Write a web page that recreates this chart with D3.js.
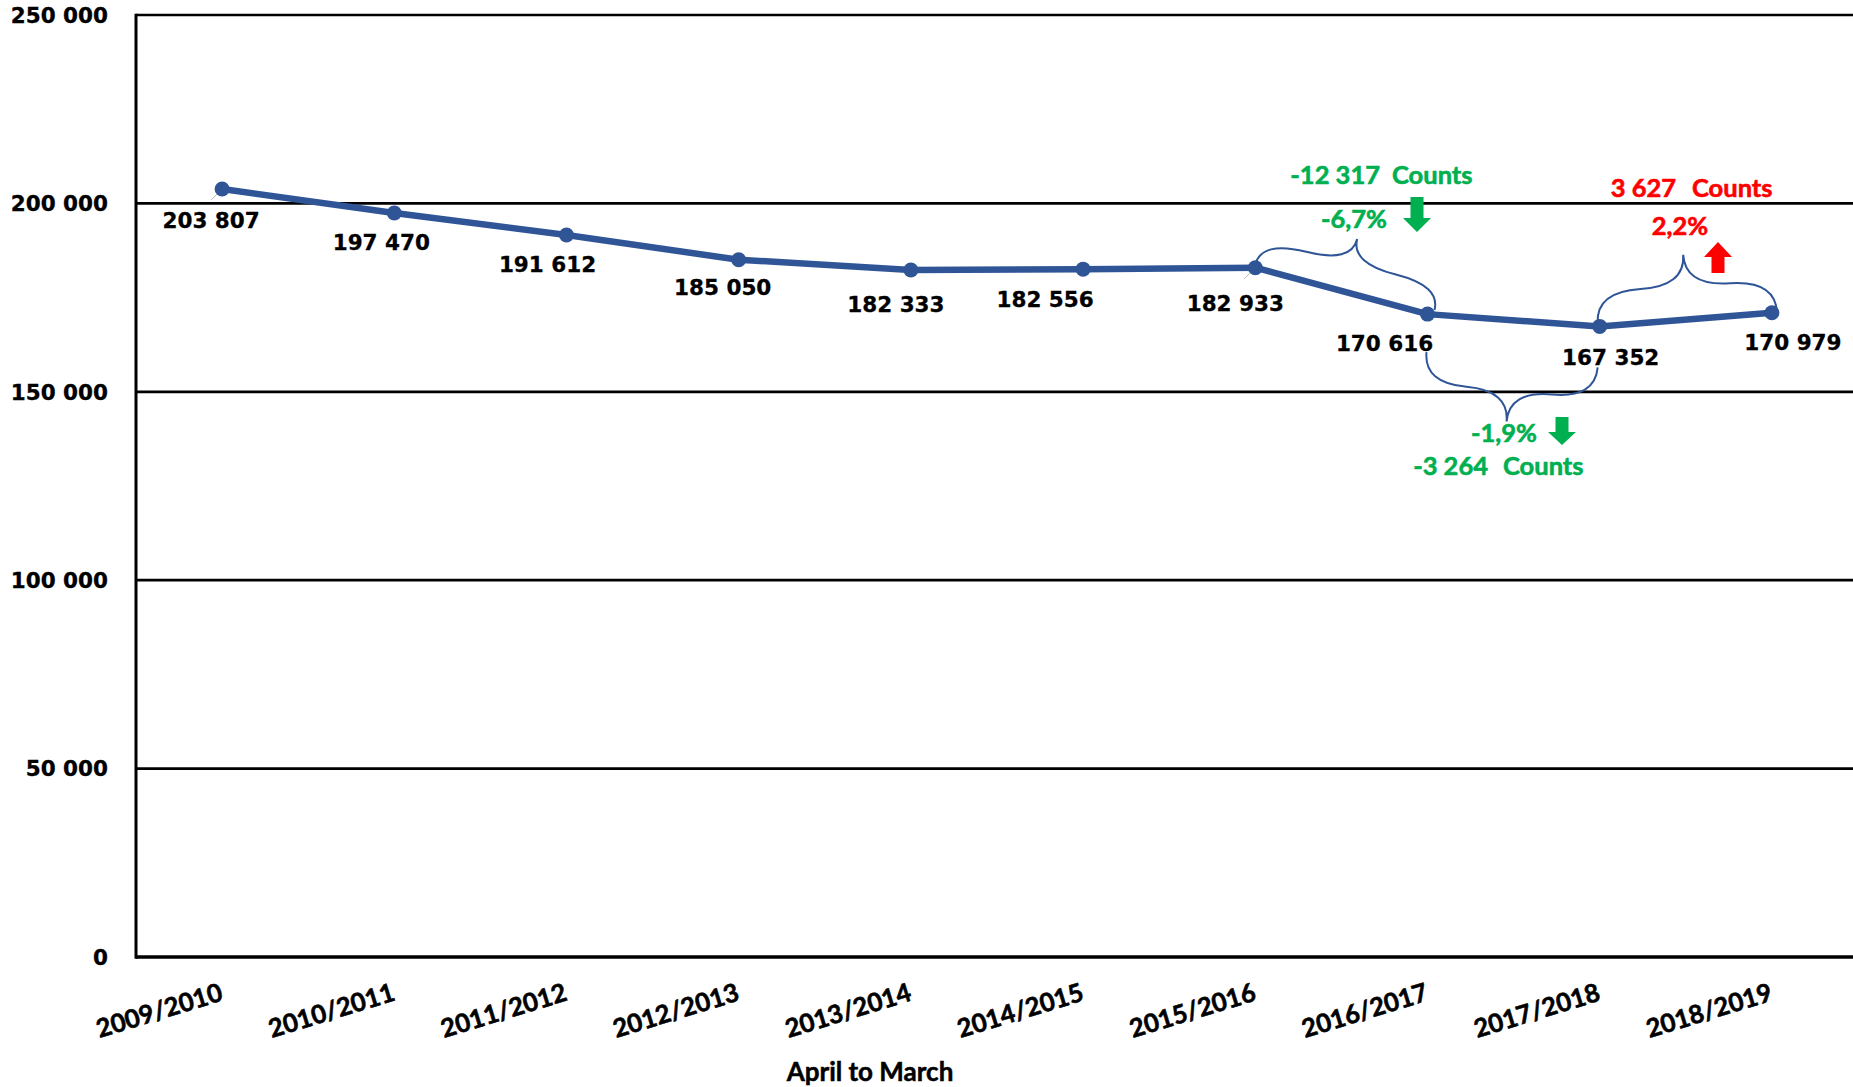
<!DOCTYPE html>
<html>
<head>
<meta charset="utf-8">
<script src="https://cdn.jsdelivr.net/npm/d3@7"></script>
<style>
  html, body { margin: 0; padding: 0; background: #fff; }
  svg { display: block; }
</style>
</head>
<body>
<div id="chart"></div>
<script>
// ---------- DATA ----------
const categories = ["2009/2010","2010/2011","2011/2012","2012/2013","2013/2014","2014/2015","2015/2016","2016/2017","2017/2018","2018/2019"];
const values = [203807, 197470, 191612, 185050, 182333, 182556, 182933, 170616, 167352, 170979];
const yTicks = [0, 50000, 100000, 150000, 200000, 250000];
const xAxisTitle = "April to March";
const changeCounts = ["-12 317", "-3 264", "3 627"];
const changePct = ["-6,7%", "-1,9%", "2,2%"];
const changeWord = "Counts";

// ---------- LAYOUT ----------
const W = 1853, H = 1087;
const plotLeft = 136, plotRight = 1858, plotTop = 15, plotBottom = 957;
const blue = "#2F5597", green = "#00B050", red = "#FF0000";
const labelDx = [-11, -13, -19, -16, -15, -38, -20, -43, 11, 21];
const labelDy = [39, 37, 37, 35, 42, 38, 43, 37, 39, 37];

const fmt = v => d3.format(",")(v).replace(/,/g, " ");

const svg = d3.select("#chart").append("svg").attr("width", W).attr("height", H);
svg.append("rect").attr("width", W).attr("height", H).attr("fill", "#fff");

const x = d3.scaleBand().domain(categories).range([plotLeft, plotRight]).padding(0);
const cx = c => x(c) + x.bandwidth() / 2;
const y = d3.scaleLinear().domain([0, 250000]).range([plotBottom, plotTop]);

// gridlines
svg.append("g").selectAll("line").data(yTicks).join("line")
  .attr("x1", plotLeft).attr("x2", plotRight)
  .attr("y1", d => y(d)).attr("y2", d => y(d))
  .attr("stroke", "#000").attr("stroke-width", d => d === 0 ? 3.5 : 2.7);

// left axis line
svg.append("line").attr("x1", plotLeft).attr("x2", plotLeft).attr("y1", plotTop - 1.3).attr("y2", plotBottom + 1.7)
  .attr("stroke", "#000").attr("stroke-width", 3);

// y tick labels
svg.append("g").selectAll("text").data(yTicks).join("text")
  .attr("x", 108).attr("y", d => y(d)).attr("dy", "0.36em")
  .attr("text-anchor", "end")
  .attr("font-family", "DejaVu Sans").attr("font-weight", "bold").attr("font-size", 21.5)
  .attr("fill", "#000").attr("stroke", "#000").attr("stroke-width", 0.3)
  .text(fmt);

// x tick labels
svg.append("g").selectAll("text").data(categories).join("text")
  .attr("transform", d => `translate(${cx(d) + 2},1000) rotate(-17)`)
  .attr("text-anchor", "end")
  .attr("font-family", "Lato").attr("font-weight", "bold").attr("font-size", 25.5)
  .attr("fill", "#000").attr("stroke", "#000").attr("stroke-width", 0.6)
  .text(d => d);

// x axis title
svg.append("text").attr("x", 870).attr("y", 1081).attr("text-anchor", "middle")
  .attr("font-family", "Lato").attr("font-weight", "bold").attr("font-size", 26)
  .attr("fill", "#000").attr("stroke", "#000").attr("stroke-width", 0.5)
  .text(xAxisTitle);

const pts = categories.map((c, i) => [cx(c), y(values[i])]);

// leader lines (faint)
[0, 6].forEach(i => {
  svg.append("line")
    .attr("x1", pts[i][0] - 11).attr("y1", pts[i][1] + 11)
    .attr("x2", pts[i][0] - 2).attr("y2", pts[i][1] + 2)
    .attr("stroke", "#bfbfbf").attr("stroke-width", 1);
});

// line
svg.append("path").datum(pts)
  .attr("d", d3.line())
  .attr("fill", "none").attr("stroke", blue).attr("stroke-width", 6.5)
  .attr("stroke-linejoin", "round").attr("stroke-linecap", "round");

svg.append("g").selectAll("circle").data(pts).join("circle")
  .attr("cx", d => d[0]).attr("cy", d => d[1]).attr("r", 7.5).attr("fill", blue);

// data labels
svg.append("g").selectAll("text").data(values).join("text")
  .attr("x", (d, i) => pts[i][0] + labelDx[i])
  .attr("y", (d, i) => pts[i][1] + labelDy[i])
  .attr("text-anchor", "middle")
  .attr("font-family", "DejaVu Sans").attr("font-weight", "bold").attr("font-size", 21.5)
  .attr("fill", "#000").attr("stroke", "#000").attr("stroke-width", 0.3)
  .text(fmt);

// curly brace
function brace(x1, y1, x2, y2, w, q) {
  let dx = x1 - x2, dy = y1 - y2;
  const len = Math.sqrt(dx * dx + dy * dy);
  dx /= len; dy /= len;
  const qx1 = x1 + q * w * dy, qy1 = y1 - q * w * dx;
  const qx2 = (x1 - .25 * len * dx) + (1 - q) * w * dy, qy2 = (y1 - .25 * len * dy) - (1 - q) * w * dx;
  const tx1 = (x1 - .5 * len * dx) + w * dy, ty1 = (y1 - .5 * len * dy) - w * dx;
  const qx3 = x2 + q * w * dy, qy3 = y2 - q * w * dx;
  const qx4 = (x1 - .75 * len * dx) + (1 - q) * w * dy, qy4 = (y1 - .75 * len * dy) - (1 - q) * w * dx;
  return `M${x1},${y1} Q${qx1},${qy1} ${qx2},${qy2} T${tx1},${ty1} M${x2},${y2} Q${qx3},${qy3} ${qx4},${qy4} T${tx1},${ty1}`;
}
const braces = [
  [pts[7][0] + 7, pts[7][1] - 4, pts[6][0], pts[6][1] - 3, 50],
  [pts[7][0] - 1, pts[7][1] + 38, pts[8][0] - 2, pts[8][1] + 41, 62],
  [pts[9][0] + 5, pts[9][1] - 1, pts[8][0] - 2, pts[8][1] - 3, 63]
];
svg.append("g").selectAll("path").data(braces).join("path")
  .attr("d", b => brace(b[0], b[1], b[2], b[3], b[4], 0.5))
  .attr("fill", "none").attr("stroke", blue).attr("stroke-width", 2);

// arrows
function arrow(cxp, yShaftEnd, yHead, yTip) {
  const sw = 6.5, hw = 14;
  return `M${cxp - sw},${yShaftEnd} L${cxp + sw},${yShaftEnd} L${cxp + sw},${yHead} L${cxp + hw},${yHead} L${cxp},${yTip} L${cxp - hw},${yHead} L${cxp - sw},${yHead} Z`;
}
svg.append("path").attr("d", arrow(1417, 197, 218, 232)).attr("fill", green);
svg.append("path").attr("d", arrow(1562, 417, 432, 445)).attr("fill", green);
svg.append("path").attr("d", arrow(1718, 273, 257, 242)).attr("fill", red);

// annotation text
const ann = svg.append("g").attr("font-family", "Lato").attr("font-weight", "bold").attr("font-size", 25.5);
const addT = (t, xx, yy, anchor, col) => ann.append("text").attr("x", xx).attr("y", yy)
  .attr("text-anchor", anchor).attr("fill", col).attr("stroke", col).attr("stroke-width", 0.6).text(t);
addT(changeCounts[0], 1380, 184, "end", green);
addT(changeWord, 1392, 184, "start", green);
addT(changePct[0], 1354, 228, "middle", green);
addT(changePct[1], 1504, 442, "middle", green);
addT(changeCounts[1], 1488, 475, "end", green);
addT(changeWord, 1503, 475, "start", green);
addT(changeCounts[2], 1676, 197, "end", red);
addT(changeWord, 1692, 197, "start", red);
addT(changePct[2], 1680, 235, "middle", red);
</script>
</body>
</html>
